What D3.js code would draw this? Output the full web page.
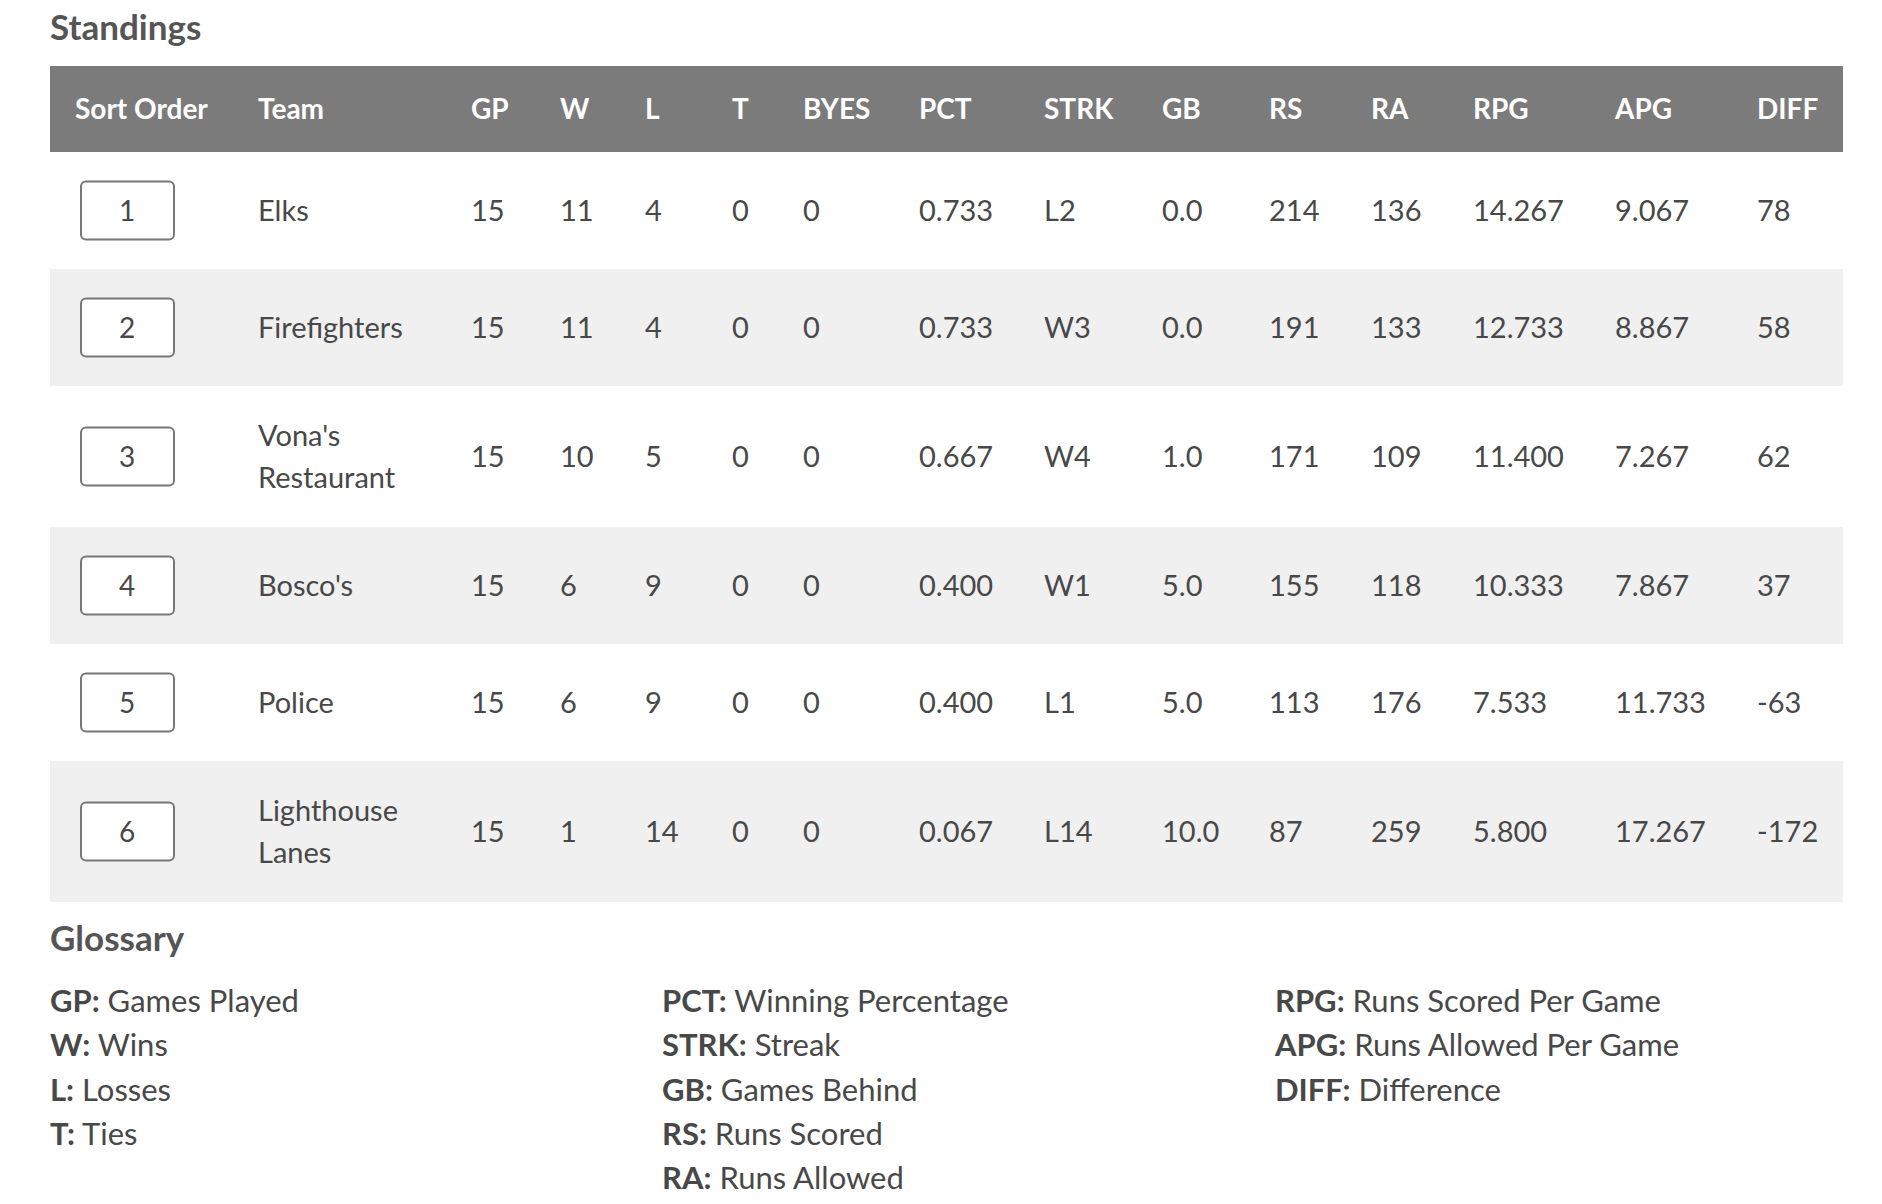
<!DOCTYPE html><html><head><meta charset="utf-8"><script src="https://cdn.jsdelivr.net/npm/d3@7"></script>
<style>body{margin:0;background:#fff;font-family:Lato,sans-serif;}</style></head><body><svg id="c" width="1882" height="1204"></svg>
<script>
const columns=["Sort Order","Team","GP","W","L","T","BYES","PCT","STRK","GB","RS","RA","RPG","APG","DIFF"];
const teams=[["Elks"],["Firefighters"],["Vona's","Restaurant"],["Bosco's"],["Police"],["Lighthouse","Lanes"]];
const gp=[15,15,15,15,15,15];
const w=[11,11,10,6,6,1];
const l=[4,4,5,9,9,14];
const t=[0,0,0,0,0,0];
const byes=[0,0,0,0,0,0];
const pct=["0.733","0.733","0.667","0.400","0.400","0.067"];
const strk=["L2","W3","W4","W1","L1","L14"];
const gb=["0.0","0.0","1.0","5.0","5.0","10.0"];
const rs=[214,191,171,155,113,87];
const ra=[136,133,109,118,176,259];
const rpg=["14.267","12.733","11.400","10.333","7.533","5.800"];
const apg=["9.067","8.867","7.267","7.867","11.733","17.267"];
const diff=[78,58,62,37,-63,-172];
const glossary=[[["GP","Games Played"],["W","Wins"],["L","Losses"],["T","Ties"]],
 [["PCT","Winning Percentage"],["STRK","Streak"],["GB","Games Behind"],["RS","Runs Scored"],["RA","Runs Allowed"]],
 [["RPG","Runs Scored Per Game"],["APG","Runs Allowed Per Game"],["DIFF","Difference"]]];

const svg=d3.select("#c");
const colX=[75,258,471,560,645,732,803,919,1044,1162,1269,1371,1473,1615,1757];
const rowH=teams.map(d=>d.length>1?141:117);
const rowY=[];let y=152;rowH.forEach(h=>{rowY.push(y);y+=h;});
const txt="#484848";
svg.append("text").attr("x",50).attr("y",40).attr("font-size",35).attr("font-weight",700).attr("fill","#555").text("Standings");
svg.append("rect").attr("x",50).attr("y",66).attr("width",1793).attr("height",86).attr("fill","#7b7b7b");
svg.selectAll(".h").data(columns).enter().append("text").attr("x",(d,i)=>colX[i]).attr("y",119)
 .attr("font-size",28).attr("font-weight",700).attr("fill","#fff").text(d=>d);
teams.forEach((tm,i)=>{
 const y0=rowY[i],h=rowH[i],cy=y0+h/2;
 if(i%2==1) svg.append("rect").attr("x",50).attr("y",y0).attr("width",1793).attr("height",h).attr("fill","#f0f0f0");
 svg.append("rect").attr("x",81).attr("y",cy-29).attr("width",93).attr("height",58).attr("rx",5).attr("fill","#fff").attr("stroke","#777").attr("stroke-width",2);
 svg.append("text").attr("x",127).attr("y",cy+10).attr("text-anchor","middle").attr("font-size",28).attr("fill",txt).text(i+1);
 tm.forEach((s,k)=>svg.append("text").attr("x",258).attr("y",cy+10+(k-(tm.length-1)/2)*42).attr("font-size",29).attr("fill",txt).text(s));
 const vals=[gp[i],w[i],l[i],t[i],byes[i],pct[i],strk[i],gb[i],rs[i],ra[i],rpg[i],apg[i],diff[i]];
 vals.forEach((v,j)=>svg.append("text").attr("x",colX[j+2]).attr("y",cy+10).attr("font-size",29).attr("fill",txt).text(v));
});
svg.append("text").attr("x",50).attr("y",951).attr("font-size",35).attr("font-weight",700).attr("fill","#555").text("Glossary");
const gx=[50,662,1275];
glossary.forEach((col,c)=>col.forEach((g,r)=>{
 const tx=svg.append("text").attr("x",gx[c]).attr("y",1012+r*44.3).attr("font-size",31).attr("fill",txt);
 tx.append("tspan").attr("font-weight",700).text(g[0]+":");
 tx.append("tspan").text(" "+g[1]);
}));
</script></body></html>
